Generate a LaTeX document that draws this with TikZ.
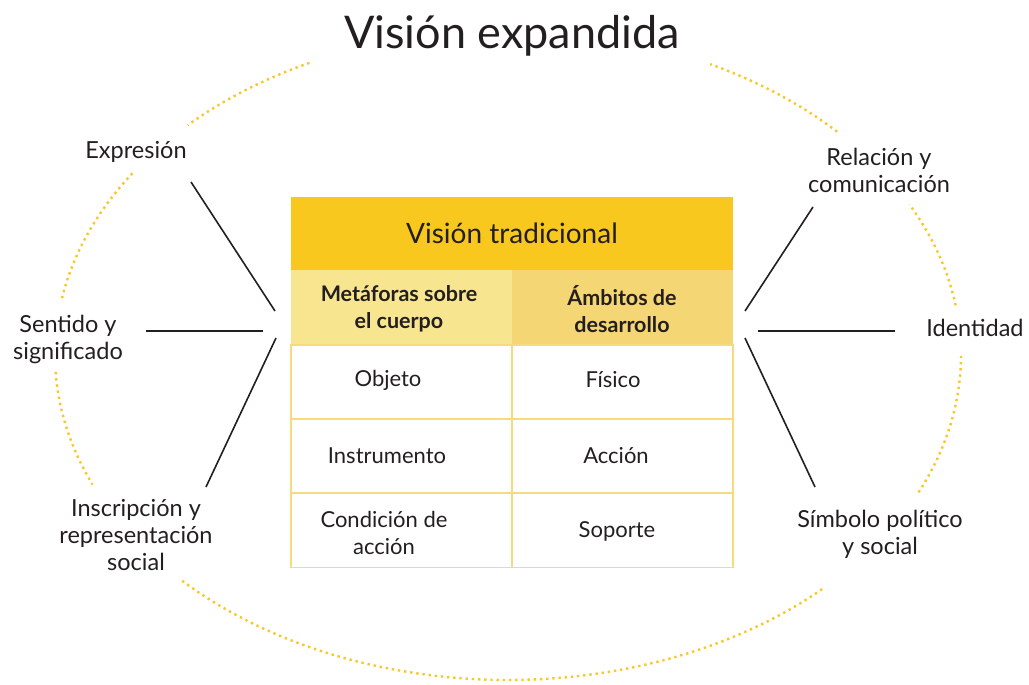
\documentclass[tikz,border=0pt]{standalone}
\usepackage{fontspec}
\setmainfont{Lato}
\definecolor{dotyellow}{HTML}{F6C829}
\definecolor{titlefill}{HTML}{F9C81F}
\definecolor{leftfill}{HTML}{F7E68F}
\definecolor{rightfill}{HTML}{F5D674}
\definecolor{cellline}{HTML}{F5DB7E}
\definecolor{ink}{HTML}{231F20}
\tikzset{
  dotarc/.style={draw=dotyellow, line width=2.4pt, dash pattern=on 2.4pt off 3.8pt},
  spoke/.style={draw=ink, line width=1.6pt},
  outer/.style={text=ink, font=\fontsize{23.5}{27}\selectfont, align=center, inner sep=0pt},
  cell/.style={minimum width=221pt, minimum height=74pt, inner sep=0pt},
  bodycell/.style={cell, draw=cellline, line width=1.6pt, fill=white},
  celltext/.style={text=ink, font=\fontsize{22}{26.5}\selectfont, align=center, inner sep=0pt},
  headtext/.style={text=ink, font=\bfseries\fontsize{21.5}{26.5}\selectfont, align=center, inner sep=0pt}
}
\begin{document}
\begin{tikzpicture}[x=1pt,y=-1pt]
\useasboundingbox (0,0) rectangle (1029,685);
% dotted ellipse arcs
\draw[dotarc] plot[domain=116:135, samples=40] ({508+453*cos(\x)},{355-325*sin(\x)});
\draw[dotarc] plot[domain=146:170, samples=40] ({508+453*cos(\x)},{355-325*sin(\x)});
\draw[dotarc] plot[domain=183:203.5, samples=40] ({508+453*cos(\x)},{355-325*sin(\x)});
\draw[dotarc] plot[domain=224:314, samples=120] ({508+453*cos(\x)},{355-325*sin(\x)});
\draw[dotarc] plot[domain=335:360, samples=40] ({508+453*cos(\x)},{355-325*sin(\x)});
\draw[dotarc] plot[domain=8.8:27.6, samples=40] ({508+453*cos(\x)},{355-325*sin(\x)});
\draw[dotarc] plot[domain=43.4:63.5, samples=40] ({508+453*cos(\x)},{355-325*sin(\x)});
% title
\node[text=ink, font=\fontsize{45}{50}\selectfont, inner sep=0pt] (title) at (512,36) {Visión expandida};
% table
\node[cell, minimum width=442pt, minimum height=73pt, fill=titlefill, text=ink, font=\fontsize{28}{32}\selectfont] (trad) at (512,233.5) {Visión tradicional};
\node[cell, minimum height=75pt, fill=leftfill] (hl) at (401.5,307.5) {};
\node[cell, minimum height=75pt, fill=rightfill] (hr) at (622.5,307.5) {};
\node[headtext] (hlt) at (399,309) {Metáforas sobre\\el cuerpo};
\node[headtext] (hrt) at (622,309) {Ámbitos de\\desarrollo};
\node[bodycell] (l1) at (401.5,382) {};
\node[bodycell] (r1) at (622.5,382) {};
\node[bodycell] (l2) at (401.5,456) {};
\node[bodycell] (r2) at (622.5,456) {};
\node[bodycell] (l3) at (401.5,530.5) {};
\node[bodycell] (r3) at (622.5,530.5) {};
\node[celltext] (l1t) at (388,380) {Objeto};
\node[celltext] (r1t) at (613,380) {Físico};
\node[celltext] (l2t) at (387,456) {Instrumento};
\node[celltext] (r2t) at (616,456) {Acción};
\node[celltext] (l3t) at (384,533) {Condición de\\acción};
\node[celltext] (r3t) at (617,531) {Soporte};
% outer labels
\node[outer] (expr) at (136,152) {Expresión};
\node[outer] (sent) at (68,339) {Sentido y\\significado};
\node[outer] (insc) at (136,535) {Inscripción y\\representación\\social};
\node[outer] (rela) at (879,170) {Relación y\\comunicación};
\node[outer] (iden) at (975,328) {Identidad};
\node[outer] (simb) at (880,534) {Símbolo político\\y social};
% spokes
\coordinate (e1) at (191,182); \coordinate (e2) at (275,311);
\coordinate (s1) at (146,331); \coordinate (s2) at (263,331);
\coordinate (i1) at (206,487); \coordinate (i2) at (276,338);
\coordinate (ra1) at (813,207); \coordinate (ra2) at (745,311);
\coordinate (id1) at (895,331); \coordinate (id2) at (758,331);
\coordinate (sb1) at (815,487); \coordinate (sb2) at (745,338);
\draw[spoke] (e1) -- (e2);
\draw[spoke] (s1) -- (s2);
\draw[spoke] (i1) -- (i2);
\draw[spoke] (ra1) -- (ra2);
\draw[spoke] (id1) -- (id2);
\draw[spoke] (sb1) -- (sb2);
\end{tikzpicture}
\end{document}
